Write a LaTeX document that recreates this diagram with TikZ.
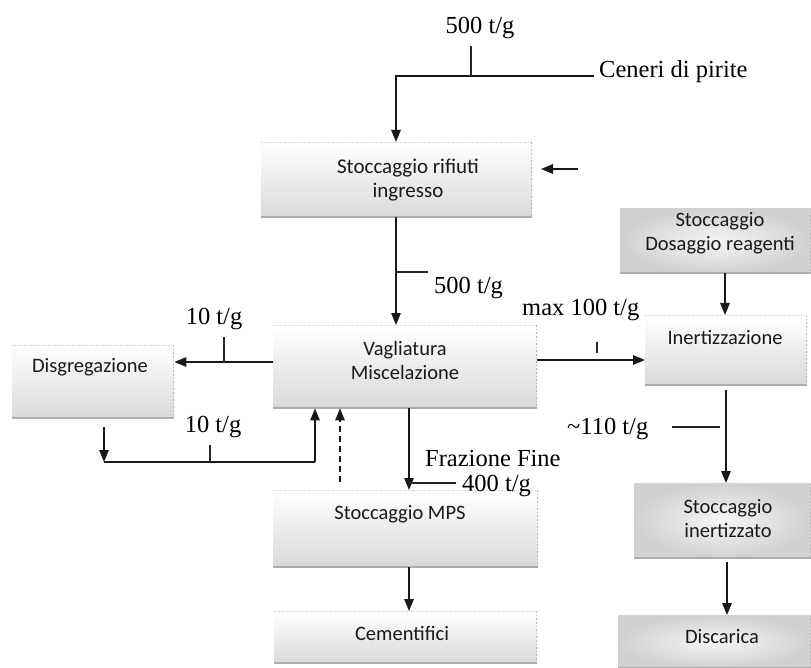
\documentclass[tikz,border=0pt]{standalone}
\usepackage{fontspec}
\setmainfont{Liberation Serif}
\newfontfamily\boxfont{Carlito}
\usetikzlibrary{arrows.meta,calc}

\begin{document}
\begin{tikzpicture}[x=1pt,y=-1pt,
  flow/.style={line width=1.4pt, draw=black!90},
  arr/.style={flow, -{Triangle[length=12pt,width=9.5pt]}},
  tick/.style={line width=1.1pt, draw=black!85},
  qty/.style={font=\fontsize{24.5}{28}\selectfont, inner sep=0pt, anchor=base},
  boxtext/.style={font=\boxfont\fontsize{20.5}{24}\selectfont, align=center, inner sep=0pt, text=black!90},
  edges/.style={path picture={
      \draw[gray!65, line width=3pt] (path picture bounding box.south west) -- (path picture bounding box.south east);
      \draw[gray!55, line width=1.6pt, dotted] (path picture bounding box.north east) -- (path picture bounding box.south east);
      \draw[gray!35, line width=1.4pt, densely dotted] (path picture bounding box.north west) -- (path picture bounding box.north east);
  }},
  stage/.style={anchor=north west, inner sep=0pt, draw=none,
      top color=white, middle color=gray!6, bottom color=gray!30, edges},
  greystage/.style={anchor=north west, inner sep=0pt, draw=none,
      inner color=gray!8, outer color=gray!36, edges},
]
\useasboundingbox (0,0) rectangle (811,668);

% process boxes
\node[stage, minimum width=271pt, minimum height=75pt] (sr) at (261,142) {};
\node[stage, minimum width=264pt, minimum height=83pt] (vag) at (273,325) {};
\node[stage, minimum width=162pt, minimum height=73pt] (dis) at (12,345) {};
\node[stage, minimum width=265pt, minimum height=77pt] (mps) at (273,490) {};
\node[stage, minimum width=263pt, minimum height=52pt] (cem) at (274,611) {};
\node[greystage, minimum width=191pt, minimum height=65pt] (dos) at (620,208) {};
\node[stage, minimum width=162pt, minimum height=70pt] (ine) at (645,315) {};
\node[greystage, minimum width=177pt, minimum height=75pt] (sin) at (634,483) {};
\node[greystage, minimum width=193pt, minimum height=53pt] (disc) at (618,615) {};

% box captions
\node[boxtext, font=\boxfont\fontsize{21}{24}\selectfont] (srT) at (408,180) {Stoccaggio rifiuti\\ingresso};
\node[boxtext] (vagT) at (405,360) {Vagliatura\\Miscelazione};
\node[boxtext] (disT) at (90,367) {Disgregazione};
\node[boxtext] (mpsT) at (400,514) {Stoccaggio MPS};
\node[boxtext] (cemT) at (402,633) {Cementifici};
\node[boxtext] (dosT) at (720,233.5) {Stoccaggio\\Dosaggio reagenti};
\node[boxtext] (ineT) at (725,337) {Inertizzazione};
\node[boxtext] (sinT) at (728,519) {Stoccaggio\\inertizzato};
\node[boxtext] (discT) at (722,637) {Discarica};

% flow quantities
\node[qty] (feedQ) at (480,34) {500 t/g};
\node[qty, anchor=base west] (ceneri) at (599,78) {Ceneri di pirite};
\node[qty, anchor=base west] (q500) at (434,294) {500 t/g};
\node[qty] (q10a) at (214,324) {10 t/g};
\node[qty] (q10b) at (213,432) {10 t/g};
\node[qty, anchor=base west] (frfine) at (425,466) {Frazione Fine};
\node[qty, anchor=base west] (q400) at (462,491) {400 t/g};
\node[qty, anchor=base west] (qmax) at (522,316) {max 100 t/g};
\node[qty, anchor=base west] (q110) at (567,434) {\textasciitilde110 t/g};

% reference columns and rows
\coordinate (colA) at (396,0);
\coordinate (colF) at (409,0);
\coordinate (colR) at (725,0);
\coordinate (feedEnd) at (594,76);
\coordinate (sideIn) at (578,169);
\coordinate (sideTip) at (541,169);
\coordinate (rowL) at (0,362);
\coordinate (rowR) at (0,360);
\coordinate (loopL) at (104,462);
\coordinate (loopR) at (315,462);
\coordinate (dashFoot) at (340,482);

% incoming ashes
\draw[arr] (feedEnd) -- (colA |- feedEnd) -- (colA |- sr.north);
\draw[tick] (471,76) -- (471,46);
\draw[arr] (sideIn) -- (sideTip);

% storage to screening
\draw[arr] (colA |- sr.south) -- (colA |- vag.north);
\draw[tick] (colA |- 0,272) -- (428,272);

% screening to disaggregation and back
\draw[arr] (vag.west |- rowL) -- (dis.east |- rowL);
\draw[tick] (224,362) -- (224,337);
\draw[arr] ($(loopL |- dis.south)+(0,9)$) -- (loopL);
\draw[flow] (loopL) -- (loopR);
\draw[arr] (loopR) -- (loopR |- vag.south);
\draw[tick] (210,462) -- (210,445);
\draw[arr, dash pattern=on 6pt off 4pt] (dashFoot) -- (dashFoot |- vag.south);

% fine fraction
\draw[arr] (colF |- vag.south) -- (colF |- mps.north);
\draw[tick] (colF |- 0,483) -- (456,483);
\draw[arr] (colF |- mps.south) -- (colF |- cem.north);

% inertisation line
\draw[arr] (vag.east |- rowR) -- (ine.west |- rowR);
\draw[tick] (597,342) -- (597,353);
\draw[arr] (colR |- dos.south) -- (colR |- ine.north);
\draw[arr] ($(colR |- ine.south)+(1,5)$) -- ($(colR |- sin.north)+(1,0)$);
\draw[tick] (672,427) -- (720,427);
\draw[arr] ($(colR |- sin.south)+(2,4)$) -- ($(colR |- disc.north)+(2,0)$);
\end{tikzpicture}
\end{document}
